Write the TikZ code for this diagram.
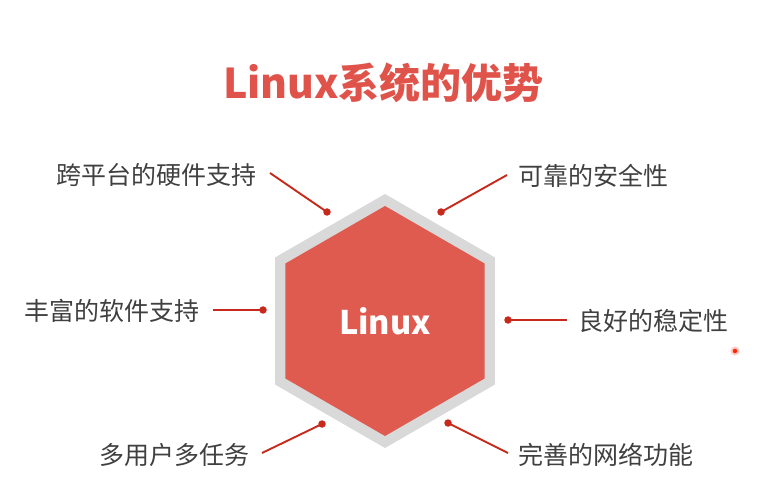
\documentclass[tikz,border=0pt]{standalone}
\usepackage{fontspec}
\newfontfamily\cjk{Noto Sans CJK SC}
\definecolor{hexred}{HTML}{DF5B4F}
\definecolor{hexgray}{HTML}{D9D9D9}
\definecolor{titlered}{HTML}{E0534A}
\definecolor{linkred}{HTML}{C72A1C}
\definecolor{labelgray}{HTML}{404040}
\begin{document}
\begin{tikzpicture}[x=1pt,y=-1pt,
    feature/.style={font=\cjk\fontsize{25}{30}\selectfont, text=labelgray, inner sep=0pt},
    link/.style={draw=linkred, line width=1.9pt},
    pin/.style={circle, fill=linkred, inner sep=0pt, minimum size=7.5pt}]
    \useasboundingbox (0,0) rectangle (773,502);
    \node[font=\cjk\bfseries\fontsize{41}{48}\selectfont, text=titlered] (title) at (383.5,83) {Linux系统的优势};
    % hexagons
    \fill[hexgray, shift={(385,321)}] (90:127) \foreach \a in {150,210,...,390} { -- (\a:127) } -- cycle;
    \fill[hexred, shift={(385,321)}] (90:115) \foreach \a in {150,210,...,390} { -- (\a:115) } -- cycle;
    \node[font=\cjk\bfseries\fontsize{32.5}{38}\selectfont, text=white] (core) at (385,321) {Linux};
    % features
    \node[feature, anchor=east] (hw) at (257,175) {跨平台的硬件支持};
    \node[feature, anchor=east] (sw) at (200,311) {丰富的软件支持};
    \node[feature, anchor=east] (mu) at (250,455) {多用户多任务};
    \node[feature, anchor=west] (sec) at (518,176) {可靠的安全性};
    \node[feature, anchor=west] (stab) at (578,321) {良好的稳定性};
    \node[feature, anchor=west] (net) at (518,455) {完善的网络功能};
    \node[pin] (phw) at (327,212) {};
    \node[pin] (psw) at (263,310) {};
    \node[pin] (pmu) at (322,424) {};
    \node[pin] (psec) at (441,212) {};
    \node[pin] (pstab) at (508,320) {};
    \node[pin] (pnet) at (448,423) {};
    \coordinate (ehw) at (270,173);
    \coordinate (esw) at (213,310);
    \coordinate (emu) at (262,453);
    \coordinate (esec) at (507,175);
    \coordinate (estab) at (567,320);
    \coordinate (enet) at (508,453);
    \foreach \n in {hw,sw,mu,sec,stab,net}
      \draw[link] (e\n) -- (p\n.center);
    \node[circle, fill=red!70!orange, draw=red!20, line width=2pt, inner sep=0pt, minimum size=7pt] (pointer) at (735,351) {};
\end{tikzpicture}
\end{document}
